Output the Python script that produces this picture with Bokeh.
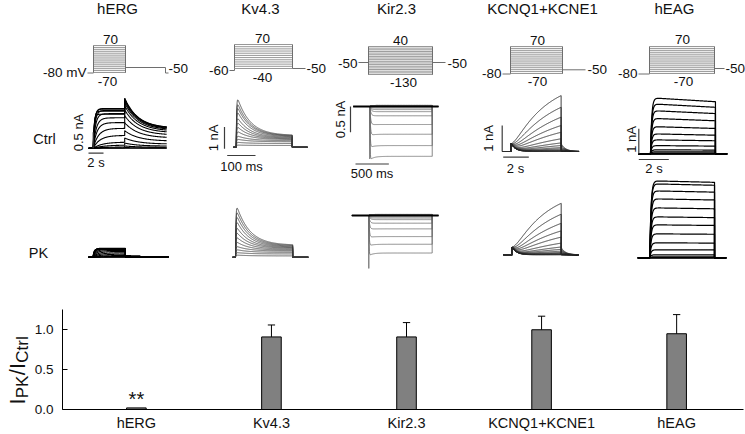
import numpy as np
from bokeh.plotting import figure
from bokeh.layouts import column, row
from bokeh.models import Range1d, FixedTicker, PrintfTickFormatter
from bokeh.embed import file_html
from bokeh.resources import INLINE
from bokeh.core.properties import value

FONT = "Liberation Sans"
INK = "#111111"

# ---------------- data ----------------
channels = ["hERG", "Kv4.3", "Kir2.3", "KCNQ1+KCNE1", "hEAG"]
ratio_mean = [0.02, 0.91, 0.91, 1.00, 0.95]
ratio_sem = [0.0, 0.15, 0.18, 0.17, 0.24]
ratio_marks = ["**", "", "", "", ""]
y_ticks = [0.0, 0.5, 1.0]
row_labels = ["Ctrl", "PK"]
ylabel_pieces = ["I", "PK", "/I", "Ctrl"]

# voltage protocols (mV)
proto_hold_mV = [-80, -60, -50, -80, -80]
proto_min_mV = [-70, -40, -130, -70, -70]
proto_max_mV = [70, 70, 40, 70, 70]
proto_inc_mV = [10, 10, 10, 10, 10]
proto_post_mV = [-50, -50, -50, -50, -50]
proto_hold_text = ["-80 mV", "-60", "-50", "-80", "-80"]

# timing (s)
step_s = [4.2, 0.198, 0.936, 3.9, 4.33]
pre_s = [0.6, 0.01, 0.25, 0.7, 0.8]
post_s = [5.6, 0.054, 0.095, 1.4, 0.78]

# scale bars
scale_nA = [0.5, 1.0, 0.5, 1.0, 1.0]
scale_s = [2.0, 0.1, 0.5, 2.0, 2.0]
scale_nA_text = ["0.5 nA", "1 nA", "0.5 nA", "1 nA", "1 nA"]
scale_s_text = ["2 s", "100 ms", "500 ms", "2 s", "2 s"]

# hERG currents (nA), steps -70..70 mV
herg_ctrl_step_nA = [0.0, 0.01, 0.04, 0.10, 0.19, 0.40, 0.62, 0.80, 0.95, 1.08, 1.18, 1.24, 1.22, 1.16, 1.06]
herg_ctrl_tail_nA = [0.0, 0.02, 0.07, 0.16, 0.32, 0.55, 0.80, 1.02, 1.20, 1.33, 1.42, 1.48, 1.52, 1.55, 1.56]
herg_pk_step_nA = [0.0, 0.01, 0.03, 0.06, 0.10, 0.14, 0.18, 0.21, 0.24, 0.26, 0.27, 0.28, 0.27, 0.26, 0.25]
herg_pk_tail_nA = [0.0, 0.0, 0.0, 0.01, 0.01, 0.02, 0.02, 0.03, 0.03, 0.03, 0.04, 0.04, 0.04, 0.04, 0.04]
herg_act_tau_s = [2.0, 2.0, 1.8, 1.5, 1.2, 0.9, 0.7, 0.5, 0.4, 0.3, 0.25, 0.2, 0.18, 0.15, 0.12]
herg_tail_resid = 0.4
herg_tail_tau_s = 1.8

# Kv4.3 currents (nA), steps -40..70 mV
kv43_ctrl_peak_nA = [0.10, 0.23, 0.38, 0.54, 0.77, 1.00, 1.23, 1.46, 1.77, 2.00, 2.20, 2.46]
kv43_ctrl_end_nA = [0.08, 0.17, 0.25, 0.30, 0.35, 0.38, 0.41, 0.44, 0.47, 0.50, 0.52, 0.54]
kv43_pk_peak_nA = [0.10, 0.22, 0.36, 0.52, 0.74, 0.98, 1.22, 1.48, 1.78, 2.05, 2.30, 2.55]
kv43_pk_end_nA = [0.06, 0.15, 0.22, 0.28, 0.32, 0.36, 0.40, 0.43, 0.46, 0.49, 0.52, 0.55]
kv43_act_tau_s = 0.0015
kv43_inact_tau_s = 0.045

# Kir2.3 currents (nA), steps -130..40 mV
kir_ctrl_nA = [-0.97, -0.76, -0.54, -0.35, -0.18, -0.10, -0.06, -0.03, 0.0,
               0.01, 0.01, 0.015, 0.015, 0.02, 0.02, 0.02, 0.02, 0.02]
kir_pk_nA = [-0.73, -0.56, -0.41, -0.26, -0.15, -0.08, -0.05, -0.025, 0.0,
             0.01, 0.01, 0.01, 0.015, 0.015, 0.015, 0.02, 0.02, 0.02]
kir_act_tau_s = [0.004, 0.006, 0.009, 0.012, 0.016, 0.02, 0.02, 0.02, 0.02,
                 0.02, 0.02, 0.02, 0.02, 0.02, 0.02, 0.02, 0.02, 0.02]
kir_relax = [0.07, 0.05, 0.04, 0.02, 0.01, 0, 0, 0, 0, 0, 0, 0, 0, 0, 0, 0, 0, 0]
kir_relax_tau_s = 0.06
kir_ctrl_cap_nA = -1.02
kir_pk_cap_nA = -1.03

# KCNQ1+KCNE1 currents (nA), steps -70..70 mV
kcnq_ctrl_end_nA = [0.0, 0.01, 0.02, 0.04, 0.06, 0.10, 0.15, 0.23, 0.33, 0.49, 0.74, 1.00, 1.32, 1.70, 2.15]
kcnq_pk_end_nA = [0.0, 0.01, 0.02, 0.04, 0.06, 0.09, 0.14, 0.21, 0.30, 0.45, 0.68, 0.92, 1.21, 1.56, 1.98]
kcnq_act_tau_s = [9, 9, 9, 8.5, 8, 7.5, 7, 6.5, 6, 5.5, 5, 4.5, 4, 3.3, 2.7]
kcnq_inst_nA = 0.3
kcnq_inst_tau_s = 0.35
kcnq_tail_frac = 0.14
kcnq_tail_tau_s = 0.35

# hEAG currents (nA), steps -70..70 mV
heag_ctrl_nA = [0.0, 0.0, 0.0, 0.01, 0.03, 0.08, 0.16, 0.33, 0.56, 0.80, 1.09, 1.42, 1.73, 2.00, 2.24]
heag_pk_nA = [0.0, 0.0, 0.01, 0.04, 0.12, 0.32, 0.60, 0.96, 1.32, 1.64, 2.00, 2.36, 2.68, 2.96, 3.08]
heag_act_tau_s = 0.08
heag_ctrl_droop = 0.07
heag_pk_droop = 0.02

# ---------------- layout (page pixels) ----------------
title_pos = [(117, 8), (260, 8), (396, 8), (542, 8), (674, 8)]
row_label_pos = [(44, 138.5), (38, 252)]
proto_layout = [
    dict(x0=93, x1=125, ytop=45, ybot=72, hx=87, hy=72.5, px=165, py=67),
    dict(x0=234, x1=292, ytop=44, ybot=68, hx=229, hy=70, px=305, py=68),
    dict(x0=368, x1=432, ytop=46, ybot=74, hx=358, hy=62, px=445, py=62),
    dict(x0=510, x1=562, ytop=46, ybot=73, hx=502, hy=73.5, px=585, py=69.3),
    dict(x0=649, x1=714, ytop=46, ybot=73, hx=638, hy=73.5, px=724, py=68),
]
proto_text_pos = [
    dict(mx=110, my=39, nx=107, ny=81, hx=86, hy=71.5, px=168, py=67.5),
    dict(mx=262, my=38, nx=262, ny=77, hx=228, hy=70, px=306, py=68),
    dict(mx=400, my=40, nx=403, ny=82, hx=357, hy=63, px=447, py=63),
    dict(mx=537, my=40, nx=537, ny=81, hx=501, hy=73, px=587, py=69),
    dict(mx=682, my=39, nx=683, ny=81, hx=637, hy=73, px=725, py=68),
]
ctrl_layout = [
    dict(x0=92.7, pxs=7.5, base=147.7, pxa=32.0),
    dict(x0=235.7, pxs=283.0, base=146.7, pxa=21.7),
    dict(x0=369.3, pxs=66.7, base=106.0, pxa=51.4),
    dict(x0=510.7, pxs=12.8, base=151.0, pxa=26.0),
    dict(x0=650.0, pxs=15.0, base=153.3, pxa=25.0),
]
pk_layout = [
    dict(x0=92.5, pxs=7.7, base=256.7, pxa=32.0),
    dict(x0=235.0, pxs=289.0, base=256.7, pxa=21.7),
    dict(x0=368.3, pxs=67.7, base=215.0, pxa=51.4),
    dict(x0=511.7, pxs=12.56, base=254.3, pxa=26.0),
    dict(x0=649.3, pxs=14.95, base=257.3, pxa=25.0),
]
scale_layout = [
    dict(vx=92.7, vy0=147.7, hx0=88.0, hy=152.7, vtx=78.0, vty=132.0, htx=95.5, hty=162.0),
    dict(vx=224.0, vy0=148.3, hx0=226.7, hy=155.0, vtx=213.0, vty=137.5, htx=241.0, hty=166.0),
    dict(vx=350.0, vy0=131.7, hx0=355.0, hy=163.5, vtx=340.0, vty=119.0, htx=371.5, hty=173.0),
    dict(vx=501.7, vy0=151.0, hx0=502.7, hy=156.7, vtx=488.0, vty=138.0, htx=515.0, hty=167.5),
    dict(vx=638.3, vy0=153.3, hx0=638.3, hy=159.0, vtx=631.0, vty=139.0, htx=653.5, hty=168.0),
]
trace_style = [
    dict(color="#000000", width=1.1),
    dict(color="#3a3a3a", width=0.8),
    dict(color="#6a6a6a", width=0.8),
    dict(color="#2a2a2a", width=0.9),
    dict(color="#000000", width=1.2),
]


# ---------------- trace construction ----------------
def herg(step_nA, tail_nA, k):
    T, pre, post = step_s[k], pre_s[k], post_s[k]
    out = []
    for A, B, tau in zip(step_nA, tail_nA, herg_act_tau_s):
        t1 = np.linspace(0, T, 120)
        i1 = A * (1 - np.exp(-t1 / tau))
        t2 = np.linspace(T, T + post, 150)
        i2 = B * (herg_tail_resid + (1 - herg_tail_resid) * np.exp(-(t2 - T) / herg_tail_tau_s))
        out.append((np.r_[-pre, 0, t1, t2], np.r_[0, 0, i1, i2]))
    return out


def kv43(peak_nA, end_nA, k):
    T, pre, post = step_s[k], pre_s[k], post_s[k]
    out = []
    for P, E in zip(peak_nA, end_nA):
        t1 = np.linspace(0, T, 240)
        i1 = (1 - np.exp(-t1 / kv43_act_tau_s)) * (E + (P - E) * np.exp(-t1 / kv43_inact_tau_s))
        out.append((np.r_[-pre, 0, t1, T, T + post], np.r_[0, 0, i1, 0, 0]))
    return out


def kir(amp_nA, cap_nA, k):
    T, pre, post = step_s[k], pre_s[k], post_s[k]
    out = []
    for j, (A, tau, r) in enumerate(zip(amp_nA, kir_act_tau_s, kir_relax)):
        t1 = np.linspace(0, T, 200)
        i1 = A * (1 - np.exp(-t1 / tau)) * (1 + r * np.exp(-t1 / kir_relax_tau_s))
        if j == 0:
            t1 = np.r_[0, t1]
            i1 = np.r_[cap_nA, i1]
        out.append((np.r_[-pre, 0, t1, T, T + post], np.r_[0, 0, i1, 0, 0]))
    return out


def kcnq(end_nA, k):
    T, pre, post = step_s[k], pre_s[k], post_s[k]
    out = []
    for E, tau in zip(end_nA, kcnq_act_tau_s):
        t1 = np.linspace(0, T, 160)
        i1 = E * (1 - np.exp(-t1 / tau)) / (1 - np.exp(-T / tau)) + kcnq_inst_nA * np.exp(-t1 / kcnq_inst_tau_s)
        t2 = np.linspace(T, T + post, 60)
        i2 = kcnq_tail_frac * E * np.exp(-(t2 - T) / kcnq_tail_tau_s)
        out.append((np.r_[-pre, 0, t1, t2], np.r_[0, 0, i1, i2]))
    return out


def heag(amp_nA, droop, k):
    T, pre, post = step_s[k], pre_s[k], post_s[k]
    out = []
    for A in amp_nA:
        t1 = np.linspace(0, T, 160)
        i1 = A * (1 - np.exp(-t1 / heag_act_tau_s)) * (1 - droop * t1 / T)
        out.append((np.r_[-pre, 0, t1, T, T + post], np.r_[0, 0, i1, 0, 0]))
    return out


ctrl_traces = [
    herg(herg_ctrl_step_nA, herg_ctrl_tail_nA, 0),
    kv43(kv43_ctrl_peak_nA, kv43_ctrl_end_nA, 1),
    kir(kir_ctrl_nA, kir_ctrl_cap_nA, 2),
    kcnq(kcnq_ctrl_end_nA, 3),
    heag(heag_ctrl_nA, heag_ctrl_droop, 4),
]
pk_traces = [
    herg(herg_pk_step_nA, herg_pk_tail_nA, 0),
    kv43(kv43_pk_peak_nA, kv43_pk_end_nA, 1),
    kir(kir_pk_nA, kir_pk_cap_nA, 2),
    kcnq(kcnq_pk_end_nA, 3),
    heag(heag_pk_nA, heag_pk_droop, 4),
]


def bare(fig):
    fig.xgrid.visible = False
    fig.ygrid.visible = False
    return fig


def txt(fig, x, y, s, size, align="center", baseline="middle", angle=0.0):
    fig.text(x=[x], y=[y], text=[s], text_font=value(FONT), text_font_size=size,
             text_align=align, text_baseline=baseline, angle=angle, text_color=INK)


# ---------------- top figure: protocols and traces ----------------
TOP_H = 300
top = bare(figure(width=745, height=TOP_H, x_range=Range1d(0, 745), y_range=Range1d(TOP_H, 0),
                  toolbar_location=None, output_backend="svg", title_location=None,
                  x_axis_location=None, y_axis_location=None,
                  min_border=0, outline_line_color=None))

for k, name in enumerate(channels):
    txt(top, title_pos[k][0], title_pos[k][1], name, "15px")

    L = proto_layout[k]
    vmin, vmax = proto_min_mV[k], proto_max_mV[k]
    levels = np.arange(vmin, vmax + 1, proto_inc_mV[k])
    ylev = L["ybot"] + (levels - vmin) / (vmax - vmin) * (L["ytop"] - L["ybot"])
    top.multi_line(xs=[[L["x0"], L["x1"]]] * len(levels), ys=[[y, y] for y in ylev],
                   line_color="#8c8c8c", line_width=0.9)
    top.multi_line(xs=[[L["hx"], L["x0"], L["x0"], L["x0"]], [L["x1"], L["x1"], L["x1"], L["px"]]],
                   ys=[[L["hy"], L["hy"], L["ybot"], L["ytop"]], [L["ytop"], L["ybot"], L["py"], L["py"]]],
                   line_color="#6e6e6e", line_width=1)
    if k == 0:
        top.line(x=[L["px"], L["px"], L["px"] + 3], y=[L["py"], L["hy"], L["hy"]],
                 line_color="#6e6e6e", line_width=1)
    P = proto_text_pos[k]
    txt(top, P["mx"], P["my"], str(vmax), "13.5px")
    txt(top, P["nx"], P["ny"], str(vmin), "13.5px")
    txt(top, P["hx"], P["hy"], proto_hold_text[k], "13.5px", align="right")
    txt(top, P["px"], P["py"], str(proto_post_mV[k]), "13.5px", align="left")

    st = trace_style[k]
    for traces, lay in ((ctrl_traces[k], ctrl_layout[k]), (pk_traces[k], pk_layout[k])):
        xs = [list(lay["x0"] + t * lay["pxs"]) for t, i in traces]
        ys = [list(lay["base"] - i * lay["pxa"]) for t, i in traces]
        top.multi_line(xs=xs, ys=ys, line_color=st["color"], line_width=st["width"])
        if k == 2:
            top.line(x=[lay["x0"] - pre_s[k] * lay["pxs"], lay["x0"] + (step_s[k] + post_s[k]) * lay["pxs"]],
                     y=[lay["base"], lay["base"]], line_color="black", line_width=2)

    S, C = scale_layout[k], ctrl_layout[k]
    top.multi_line(xs=[[S["vx"], S["vx"]], [S["hx0"], S["hx0"] + scale_s[k] * C["pxs"]]],
                   ys=[[S["vy0"], S["vy0"] - scale_nA[k] * C["pxa"]], [S["hy"], S["hy"]]],
                   line_color="#3c3c3c", line_width=1.2)
    txt(top, S["vtx"], S["vty"], scale_nA_text[k], "13px", angle=np.pi / 2)
    txt(top, S["htx"], S["hty"], scale_s_text[k], "13px")

for (x, y), s in zip(row_label_pos, row_labels):
    txt(top, x, y, s, "14.5px")

# ---------------- bottom row: y-label panel + bar chart ----------------
BOT_H = 133
LBL_W = 31
B_TOP, B_BOT = 9, 22
YR = (0, 1.254)


def yd(py):  # page row inside the bar panel -> ratio value
    return (411 - py) / 81.33


lab = bare(figure(width=LBL_W, height=BOT_H, x_range=Range1d(0, LBL_W), y_range=Range1d(*YR),
                  toolbar_location=None, output_backend="svg", title_location=None,
                  x_axis_location=None, y_axis_location=None,
                  min_border_left=0, min_border_right=0, min_border_top=B_TOP, min_border_bottom=B_BOT,
                  outline_line_color=None))
big, small = 22, 17
piece_font = [big, small, big, small]
piece_shift = [0.0, 4.5, 0.0, 4.5]
adv = {"I": 0.278, "P": 0.667, "K": 0.667, "/": 0.278, "C": 0.722, "t": 0.278, "r": 0.333, "l": 0.222}
ypos = 406.0
for s, fs, sh in zip(ylabel_pieces, piece_font, piece_shift):
    txt(lab, 17.0 + sh, yd(ypos), s, f"{fs}px", align="left", baseline="alphabetic", angle=np.pi / 2)
    ypos -= sum(adv[c] for c in s) * fs * 1.04

xpos = np.arange(1, len(channels) + 1)
bot = bare(figure(width=745 - LBL_W, height=BOT_H, x_range=Range1d(0.453, 5.495), y_range=Range1d(*YR),
                  toolbar_location=None, output_backend="svg", title_location=None,
                  min_border_left=61 - LBL_W, min_border_right=2, min_border_top=B_TOP, min_border_bottom=B_BOT,
                  outline_line_color=None))
bot.vbar(x=xpos, top=ratio_mean, width=0.145, fill_color="#808080", line_color="black", line_width=1)

m = np.array(ratio_mean)
e = np.array(ratio_sem)
has = e > 0
cap = 0.027
bot.segment(x0=xpos[has], y0=m[has], x1=xpos[has], y1=(m + e)[has], line_color="black", line_width=1)
bot.segment(x0=xpos[has] - cap, y0=(m + e)[has], x1=xpos[has] + cap, y1=(m + e)[has],
            line_color="black", line_width=1)
bot.text(x=xpos, y=m + 0.11, text=ratio_marks, text_font=value(FONT), text_font_size="20px",
         text_align="center", text_baseline="middle", text_color=INK)

bot.yaxis.ticker = FixedTicker(ticks=y_ticks)
bot.yaxis.formatter = PrintfTickFormatter(format="%.1f")
bot.yaxis.minor_tick_line_color = None
bot.yaxis.major_tick_in = 5
bot.yaxis.major_tick_out = 0
bot.yaxis.major_label_standoff = 9
bot.yaxis.major_label_text_font = FONT
bot.yaxis.major_label_text_font_size = "13.5px"
bot.yaxis.major_label_text_color = INK
bot.yaxis.axis_line_color = "black"

bot.xaxis.ticker = FixedTicker(ticks=list(xpos))
bot.xaxis.major_label_overrides = {int(i): c for i, c in zip(xpos, channels)}
bot.xaxis.major_tick_line_color = None
bot.xaxis.minor_tick_line_color = None
bot.xaxis.major_tick_in = 0
bot.xaxis.major_tick_out = 0
bot.xaxis.major_label_standoff = 5
bot.xaxis.major_label_text_font = FONT
bot.xaxis.major_label_text_font_size = "14.5px"
bot.xaxis.major_label_text_color = INK
bot.xaxis.axis_line_color = "black"

layout = column(top, row(lab, bot))
open("out.html", "w").write(file_html(layout, INLINE))
